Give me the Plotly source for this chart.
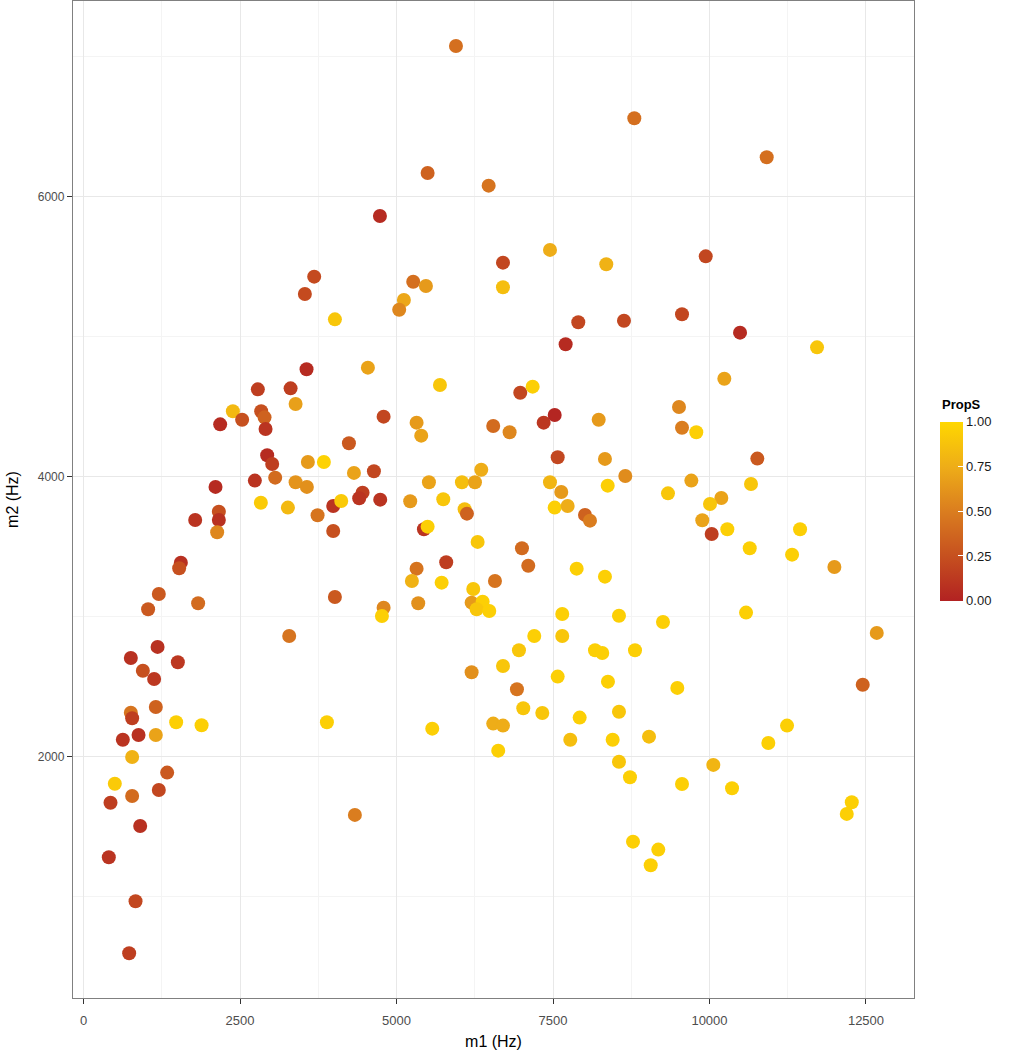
import plotly.graph_objects as go

# m1 (Hz)
m1 = [3685, 3536, 4016,
      5950, 8799, 5497, 6472, 4735, 7452, 6701, 8351, 5267, 5470, 6701, 5118, 5043, 7904, 8634, 7702,
      10914, 9940, 9561, 10488,
      3563, 4543, 2785, 3308, 3388, 2386, 2838, 2892, 2534, 2183, 2908, 4240, 2934, 3014, 3584, 3840,
      4320, 2737, 3062, 3388, 3568, 2109, 2833, 3265, 3739, 3989, 4117, 2162, 2162, 1784, 2135, 3989,
      1555, 1528, 1203, 1032, 1831, 4016, 3286, 1183, 756, 1507,
      948, 1128, 1155, 756, 777, 1480, 1886, 3888, 628, 879, 1155, 777, 1336, 500, 1203, 777, 431,
      4335, 905, 404, 831, 729,
      5694, 6977, 7175, 4794, 5321, 5395, 6545, 6807, 7351, 7527, 8230, 7575, 8330, 8655, 4639, 4458,
      4404, 4740, 5518, 5219, 5747, 6045, 6253, 6354, 6088, 6125, 5438, 5497, 7452, 7632, 7527, 7734,
      8011, 8091, 8374, 6296, 7004, 7105, 5794, 5321, 5246, 5721, 6573, 6226, 7878, 8330, 5347, 4794,
      4767, 6200, 6376, 6280, 6482, 7648, 8554, 7201, 7648, 6956, 8171, 8287, 8810, 6701,
      6200, 7575, 6924, 7025, 7329, 6545, 6701, 5571, 6625, 7926, 7776, 8378, 8554, 8453, 8554, 8730,
      8778,
      11718, 10237, 9513, 9561, 9789, 10764, 9710, 10663, 9337, 10189, 10008, 9885, 10035, 10285,
      11447, 10643, 11319, 11995, 10584, 9257, 12672,
      12448, 9486, 9034, 11239, 10940, 10061, 9561, 10360, 12273, 12193, 9182, 9061]

# m2 (Hz)
m2 = [5429, 5305, 5124,
      7077, 6560, 6169, 6079, 5862, 5620, 5529, 5517, 5393, 5362, 5353, 5262, 5193, 5103, 5114, 4946,
      6282, 5574, 5160, 5029,
      4767, 4779, 4624, 4631, 4519, 4467, 4467, 4424, 4407, 4374, 4341, 4239, 4153, 4091, 4105, 4105,
      4027, 3972, 3993, 3960, 3927, 3927, 3814, 3779, 3724, 3791, 3826, 3750, 3691, 3691, 3603, 3612,
      3386, 3346, 3162, 3053, 3096, 3141, 2862, 2784, 2705, 2674,
      2614, 2555, 2355, 2314, 2274, 2246, 2224, 2246, 2121, 2155, 2155, 1998, 1886, 1807, 1762, 1719,
      1671, 1584, 1505, 1281, 967, 596,
      4655, 4600, 4643, 4429, 4386, 4293, 4362, 4317, 4386, 4441, 4407, 4139, 4127, 4005, 4039, 3886,
      3846, 3836, 3960, 3824, 3839, 3960, 3960, 4050, 3767, 3736, 3624, 3643, 3960, 3891, 3779, 3791,
      3727, 3686, 3936, 3534, 3489, 3364, 3389, 3343, 3255, 3243, 3255, 3198, 3343, 3286, 3096, 3064,
      3005, 3100, 3107, 3053, 3041, 3019, 3007, 2862, 2862, 2760, 2760, 2741, 2760, 2648,
      2603, 2572, 2481, 2346, 2312, 2236, 2222, 2200, 2043, 2279, 2121, 2536, 2321, 2121, 1964, 1853,
      1393,
      4924, 4700, 4498, 4350, 4317, 4129, 3972, 3948, 3881, 3848, 3805, 3689, 3591, 3624,
      3624, 3489, 3443, 3355, 3029, 2962, 2884,
      2514, 2491, 2143, 2222, 2098, 1941, 1805, 1774, 1674, 1591, 1336, 1224]

# PropS
props = [0.22, 0.22, 0.90,
         0.42, 0.42, 0.35, 0.45, 0.05, 0.75, 0.20, 0.78, 0.42, 0.65, 0.85, 0.72, 0.55, 0.20, 0.20, 0.05,
         0.42, 0.20, 0.20, 0.05,
         0.05, 0.70, 0.15, 0.15, 0.68, 0.82, 0.25, 0.35, 0.25, 0.05, 0.10, 0.30, 0.05, 0.15, 0.65, 0.97,
         0.70, 0.10, 0.40, 0.62, 0.60, 0.05, 0.92, 0.82, 0.45, 0.10, 0.92, 0.25, 0.08, 0.10, 0.55, 0.25,
         0.08, 0.25, 0.30, 0.30, 0.40, 0.30, 0.45, 0.08, 0.08, 0.12,
         0.25, 0.12, 0.35, 0.45, 0.15, 0.95, 0.95, 0.95, 0.10, 0.08, 0.70, 0.78, 0.30, 0.92, 0.20, 0.40,
         0.15, 0.50, 0.08, 0.10, 0.20, 0.15,
         0.90, 0.20, 0.95, 0.20, 0.65, 0.70, 0.40, 0.55, 0.12, 0.02, 0.65, 0.20, 0.65, 0.58, 0.20, 0.15,
         0.10, 0.10, 0.70, 0.65, 0.90, 0.85, 0.70, 0.75, 0.85, 0.35, 0.10, 0.95, 0.80, 0.65, 0.95, 0.75,
         0.35, 0.50, 0.95, 0.90, 0.40, 0.40, 0.15, 0.45, 0.78, 0.95, 0.45, 0.90, 0.95, 0.95, 0.60, 0.55,
         0.95, 0.65, 0.95, 0.90, 0.95, 0.95, 0.95, 0.95, 0.90, 0.90, 0.95, 0.95, 0.95, 0.90,
         0.60, 0.95, 0.45, 0.90, 0.90, 0.75, 0.75, 0.95, 0.95, 0.95, 0.85, 0.95, 0.90, 0.95, 0.90, 0.95,
         0.95,
         0.90, 0.70, 0.55, 0.50, 0.95, 0.30, 0.70, 0.90, 0.90, 0.70, 0.90, 0.70, 0.15, 0.95,
         0.95, 0.95, 0.95, 0.65, 0.95, 0.95, 0.65,
         0.35, 0.95, 0.85, 0.95, 0.95, 0.80, 0.95, 0.95, 0.95, 0.95, 0.95, 0.95]

x_ticks = [0, 2500, 5000, 7500, 10000, 12500]
y_ticks = [2000, 4000, 6000]
cbar_ticks = [0.0, 0.25, 0.5, 0.75, 1.0]
cbar_labels = ["0.00", "0.25", "0.50", "0.75", "1.00"]

colorscale = [[0.0, "#B22222"], [0.25, "#C6501F"], [0.5, "#DA7D1F"],
              [0.75, "#EEAD18"], [1.0, "#FFD700"]]

FONT = "Liberation Sans, Arial, sans-serif"

fig = go.Figure()
fig.add_trace(go.Scatter(
    x=m1, y=m2, mode="markers",
    marker=dict(
        size=14, color=props, colorscale=colorscale, cmin=0, cmax=1,
        line=dict(width=0),
        showscale=True,
        colorbar=dict(
            x=1.031, xanchor="left", xpad=0,
            y=0.578, yanchor="top", ypad=0,
            thickness=23, lenmode="pixels", len=179,
            outlinewidth=0,
            tickvals=cbar_ticks, ticktext=cbar_labels,
            ticks="inside", ticklen=5, tickcolor="white", tickwidth=1.2,
            tickfont=dict(family=FONT, size=13, color="#1a1a1a"),
        ),
    ),
    showlegend=False,
    hoverinfo="skip",
))

fig.add_annotation(
    text="<b>PropS</b>", xref="paper", yref="paper",
    x=1.0309, y=0.5948, xanchor="left", yanchor="middle",
    showarrow=False, font=dict(family=FONT, size=13, color="#000000"),
)

fig.update_layout(
    width=1019, height=1050,
    margin=dict(l=73, r=105, t=1, b=52, autoexpand=False),
    paper_bgcolor="white", plot_bgcolor="white",
    font=dict(family=FONT, size=12, color="#4D4D4D"),
)

fig.update_xaxes(
    range=[-168, 13267],
    tickvals=x_ticks, ticktext=[str(v) for v in x_ticks],
    ticks="outside", ticklen=5, tickcolor="#333333", tickwidth=1,
    ticklabelstandoff=5,
    tickfont=dict(family=FONT, size=13, color="#4D4D4D"),
    showgrid=True, gridcolor="#E8E8E8", gridwidth=1.4,
    minor=dict(tickvals=[1250, 3750, 6250, 8750, 11250], showgrid=True,
               gridcolor="#F4F4F4", gridwidth=0.8),
    showline=True, linecolor="#808080", linewidth=1.3, mirror=True,
    zeroline=False,
    title=dict(text="m1 (Hz)", font=dict(family=FONT, size=16, color="#000000"), standoff=9),
)

fig.update_yaxes(
    range=[276, 7398],
    tickvals=y_ticks, ticktext=[str(v) for v in y_ticks],
    ticks="outside", ticklen=5, tickcolor="#333333", tickwidth=1,
    tickfont=dict(family=FONT, size=12, color="#4D4D4D"),
    showgrid=True, gridcolor="#E8E8E8", gridwidth=1.4,
    minor=dict(tickvals=[1000, 3000, 5000, 7000], showgrid=True,
               gridcolor="#F4F4F4", gridwidth=0.8),
    showline=True, linecolor="#808080", linewidth=1.3, mirror=True,
    zeroline=False,
    title=dict(text="m2 (Hz)", font=dict(family=FONT, size=16, color="#000000"), standoff=15),
)

fig.write_html("out.html", config={"displayModeBar": False},
               post_script="document.body.style.margin='0';")
